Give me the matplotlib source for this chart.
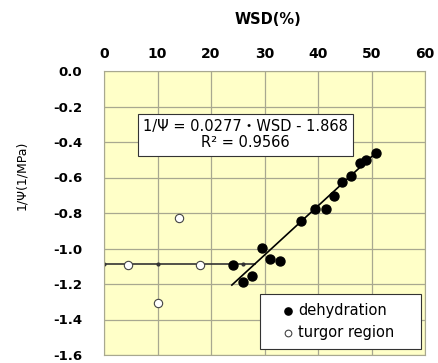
import matplotlib.pyplot as plt
import numpy as np

plt.rcParams['font.family'] = ['DejaVu Sans', 'Noto Sans CJK JP']

# dehydration points (filled)
wsd_dehyd = [24.2, 25.9, 27.7, 29.5, 31.1, 32.9, 36.9, 39.4, 41.5, 42.9, 44.4, 46.1, 47.9, 48.9, 50.8]
psi_dehyd = [-1.093, -1.187, -1.155, -0.995, -1.057, -1.068, -0.846, -0.779, -0.779, -0.702, -0.623, -0.592, -0.52, -0.50, -0.464]

# turgor region points (open)
wsd_turgor = [4.4, 10.1, 14.0, 17.9]
psi_turgor = [-1.093, -1.309, -0.83, -1.093]

# horizontal turgor line
wsd_flat = [0, 10, 25.9, 28.2]
psi_flat = [-1.087, -1.087, -1.087, -1.087]

# regression
slope = 0.0277
intercept = -1.868
fit_range = [23.9, 50.9]

xticks = [0, 10, 20, 30, 40, 50, 60]
yticks = [0.0, -0.2, -0.4, -0.6, -0.8, -1.0, -1.2, -1.4, -1.6]

fig = plt.figure(figsize=(4.38, 3.63), dpi=100)
ax = fig.add_axes([104/438, 1-355/363, 321/438, 284/363])
ax.set_facecolor("#FFFFC8")

ax.plot(wsd_flat, psi_flat, color="#333333", lw=1.2, marker="o", ms=2, markevery=[0, 1, 2], zorder=2)
xf = np.array(fit_range)
ax.plot(xf, slope*xf + intercept, color="black", lw=1.2, zorder=2)
ax.scatter(wsd_dehyd, psi_dehyd, s=42, color="black", zorder=3, label="dehydration")
ax.scatter(wsd_turgor, psi_turgor, s=36, facecolor="white", edgecolor="#444444", lw=0.8, zorder=3, label="turgor region")

ax.set_xlim(0, 60)
ax.set_ylim(-1.6, 0)
ax.set_xticks(xticks)
ax.set_yticks(yticks)
ax.xaxis.tick_top()
ax.set_xticklabels([str(v) for v in xticks], fontweight="bold", fontsize=10)
ax.set_yticklabels([f"{v:.1f}" for v in yticks], fontweight="bold", fontsize=9.5)
ax.tick_params(axis="x", length=0, pad=7)
ax.tick_params(axis="y", length=0, pad=15.5)
ax.grid(True, color="#A8A890", lw=0.9)
for s in ax.spines.values():
    s.set_color("#A8A890")

fig.text(268/438, 1-20/363, "WSD(%)", ha="center", va="center", fontsize=10.5, fontweight="bold")
fig.text(22/438, 1-175/363, "1/Ψ(1/MPa)", rotation=90, ha="center", va="center", fontsize=9)

ax.text(26.5, -0.358, "1/Ψ = 0.0277・WSD - 1.868\nR² = 0.9566", ha="center", va="center",
        fontsize=10.5, linespacing=1.15,
        bbox=dict(boxstyle="square,pad=0.35", facecolor="white", edgecolor="#333333", lw=0.8), zorder=4)

leg = ax.legend(loc="lower left", bbox_to_anchor=(0.486, 0.021, 0.502, 0.1), mode="expand",
                borderaxespad=0, fontsize=10.5, frameon=True,
                fancybox=False, edgecolor="#333333", framealpha=1, handletextpad=-0.6,
                borderpad=0.6, labelspacing=0.5, handlelength=2.6, markerscale=0.8)
leg.get_frame().set_linewidth(0.8)

fig.savefig("out.png", dpi=100)
